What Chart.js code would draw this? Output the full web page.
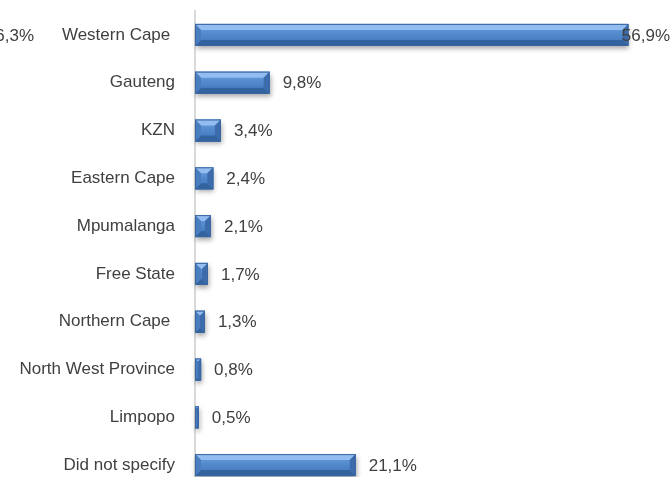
<!DOCTYPE html>
<html>
<head>
<meta charset="utf-8">
<script src="https://cdn.jsdelivr.net/npm/chart.js@4/dist/chart.umd.min.js"></script>
<style>
  html, body { margin: 0; padding: 0; background: #fff; overflow: hidden; }
  #wrap { position: relative; width: 671px; height: 490px; }
</style>
</head>
<body>
<div id="wrap"><canvas id="myChart"></canvas></div>
<script>
// data
const provinces = ["Western Cape ", "Gauteng", "KZN", "Eastern Cape", "Mpumalanga", "Free State",
  "Northern Cape ", "North West Province", "Limpopo", "Did not specify"];
const shares = [56.9, 9.8, 3.4, 2.4, 2.1, 1.7, 1.3, 0.8, 0.5, 21.1];
const strayLabel = "56,3%"; // clipped text at the left edge of the original

const fontFam = "'Liberation Sans', Arial, sans-serif";

function fmt(v) {
  return v.toFixed(1).replace(".", ",") + "%";
}

// shadow under the bars + bevelled faces on top
const barBevel = {
  id: "barBevel",
  beforeDatasetDraw(chart, args) {
    const ctx = chart.ctx;
    ctx.save();
    ctx.shadowColor = "rgba(0,0,0,0.35)";
    ctx.shadowBlur = 5;
    ctx.shadowOffsetY = 3;
    ctx.shadowOffsetX = 1;
    ctx.fillStyle = "#4f81bd";
    for (const el of args.meta.data) {
      const p = el.getProps(["x", "y", "base", "height"], true);
      ctx.fillRect(p.base, p.y - p.height / 2, p.x - p.base, p.height);
    }
    ctx.restore();
  },
  afterDatasetDraw(chart, args) {
    const ctx = chart.ctx;
    ctx.save();
    for (const el of args.meta.data) {
      const p = el.getProps(["x", "y", "base", "height"], true);
      const x0 = p.base, x1 = p.x, yt = p.y - p.height / 2, yb = p.y + p.height / 2;
      const w = x1 - x0;
      const b = Math.min(6, w / 2, p.height / 2);
      const g = ctx.createLinearGradient(0, yt, 0, yb);
      g.addColorStop(0, "#6fa3e3");
      g.addColorStop(0.5, "#5088cb");
      g.addColorStop(1, "#4476b8");
      ctx.fillStyle = g;
      ctx.fillRect(x0, yt, w, p.height);
      const poly = (pts, col) => {
        ctx.beginPath();
        ctx.moveTo(pts[0][0], pts[0][1]);
        for (let i = 1; i < pts.length; i++) ctx.lineTo(pts[i][0], pts[i][1]);
        ctx.closePath();
        ctx.fillStyle = col;
        ctx.fill();
      };
      poly([[x0, yt], [x1, yt], [x1 - b, yt + b], [x0 + b, yt + b]], "#93bdf0");
      poly([[x0 + b, yb - b], [x1 - b, yb - b], [x1, yb], [x0, yb]], "#33639f");
      poly([[x0, yt], [x0 + b, yt + b], [x0 + b, yb - b], [x0, yb]], "#4a7dbf");
      poly([[x1, yt], [x1 - b, yt + b], [x1 - b, yb - b], [x1, yb]], "#3c6cab");
      ctx.strokeStyle = "#3a66a0";
      ctx.lineWidth = 1;
      ctx.strokeRect(x0 + 0.5, yt + 0.5, Math.max(w - 1, 0), p.height - 1);
    }
    ctx.restore();
  }
};

// value labels next to the bars
const valueLabels = {
  id: "valueLabels",
  afterDatasetsDraw(chart) {
    const ctx = chart.ctx;
    const meta = chart.getDatasetMeta(0);
    ctx.save();
    ctx.font = "17px " + fontFam;
    ctx.fillStyle = "#404040";
    ctx.textBaseline = "middle";
    ctx.textAlign = "left";
    meta.data.forEach((el, i) => {
      const txt = fmt(shares[i]);
      const tw = ctx.measureText(txt).width;
      let x = el.x + 13;
      if (x + tw > chart.width - 1) x = chart.width - 1 - tw;
      ctx.fillText(txt, x, el.y + 1);
    });
    ctx.textAlign = "right";
    ctx.fillText(strayLabel, 34, meta.data[0].y + 1);
    ctx.restore();
  }
};

const ctx = document.getElementById("myChart").getContext("2d");
const chart = new Chart(ctx, {
  type: "bar",
  data: {
    labels: provinces,
    datasets: [{
      data: shares,
      backgroundColor: "#4f81bd",
      borderWidth: 0,
      barPercentage: 0.46,
      categoryPercentage: 1
    }]
  },
  options: {
    indexAxis: "y",
    responsive: true,
    maintainAspectRatio: false,
    animation: false,
    layout: { padding: { top: 11, right: 19, bottom: 1, left: 0 } },
    plugins: { legend: { display: false }, tooltip: { enabled: false } },
    scales: {
      x: {
        display: false,
        min: 0,
        max: 60
      },
      y: {
        afterFit(scale) {
          scale.width = 195;
          scale.paddingTop = 0;
          scale.paddingBottom = 0;
        },
        grid: { display: false, drawTicks: false },
        border: { display: true, color: "#d9d9d9", width: 2 },
        ticks: {
          padding: 20,
          color: "#404040",
          font: { family: fontFam, size: 17 }
        }
      }
    }
  },
  plugins: [barBevel, valueLabels]
});
</script>
</body>
</html>
